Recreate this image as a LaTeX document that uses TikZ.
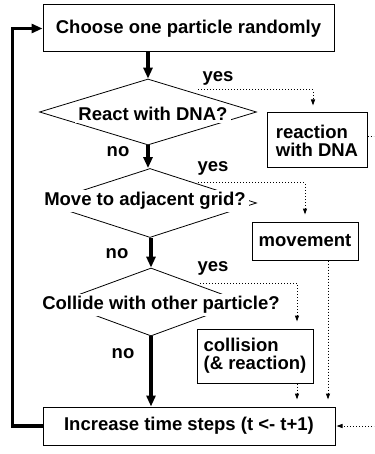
\documentclass[tikz,border=0pt]{standalone}
\usepackage{fontspec}
\setmainfont{Liberation Sans}
\usetikzlibrary{shapes.geometric,arrows.meta}

\begin{document}
\begin{tikzpicture}[x=1pt, y=-1pt,
    every node/.style={font=\fontsize{18.5}{18}\selectfont\bfseries},
    box/.style={draw, line width=1pt, inner sep=0pt},
    question/.style={draw, diamond, line width=0.8pt, inner sep=0pt},
    asktext/.style={fill=white, inner xsep=3pt, inner ysep=2pt},
    flow/.style={line width=3.5pt, -{Triangle[length=11pt,width=9pt]}},
    yesline/.style={line width=1pt, dotted, -{Triangle[length=6pt,width=4pt]}, shorten >=7pt}]
      \useasboundingbox (0,0) rectangle (374,454);
      \clip (0,0) rectangle (374,454);

      % Riquadri principali
      \node[box, minimum width=291pt, minimum height=47pt] (choose) at (188.5,28.5) {Choose one particle randomly};
      \node[box, minimum width=292pt, minimum height=38pt] (increase) at (189,426) {Increase time steps (t <- t+1)};

      % Domande
      \node[question, minimum width=217pt, minimum height=66pt] (react) at (148,112) {};
      \node[asktext] (reacttext) at (153,114) {React with DNA?};
      \node[question, minimum width=213pt, minimum height=69pt] (move) at (150,203) {};
      \node[asktext] (movetext) at (145,201) {Move to adjacent grid?};
      \node[question, minimum width=185pt, minimum height=68pt] (collide) at (151,302) {};
      \node[asktext] (collidetext) at (161,305) {Collide with other particle?};

      % Azioni
      \node[box, minimum width=100pt, minimum height=55pt, align=left] (reaction) at (317,140.5) {reaction\\with DNA};
      \node[box, minimum width=106pt, minimum height=38pt] (movement) at (305,241) {movement};
      \node[box, minimum width=116pt, minimum height=54pt, align=left] (collision) at (255,356) {collision\\(\& reaction)};

      % Etichette si/no
      \node (yes1) at (218,78) {yes};
      \node (no1) at (118,152) {no};
      \node (yes2) at (213,168) {yes};
      \node (no2) at (117,254) {no};
      \node (yes3) at (213,268) {yes};
      \node (no3) at (123,354) {no};

      % Percorso principale
      \draw[flow] (choose.south -| react.north) -- (react.north);
      \draw[flow] (react.south) -- (react.south |- move.north);
      \draw[flow] (move.south -| collide.north) -- (collide.north);
      \draw[flow] (collide.south) -- (collide.south |- increase.north);
      \draw[flow] (increase.west) -- ++(-30,0) |- (choose.west);

      % Rami yes
      \coordinate (r1) at (198,90);
      \coordinate (m1) at (198,183);
      \coordinate (c1) at (200,283);
      \draw[yesline] (r1) -| ([xshift=-4pt]reaction.north);
      \draw[yesline] (m1) -| (movement.north);
      \draw[yesline] (c1) -| ([xshift=42pt]collision.north);
      \draw[yesline] ([xshift=42pt]collision.south) -- ([xshift=42pt]collision.south |- increase.north);
      \draw[yesline] ([xshift=23pt]movement.south) -- ([xshift=23pt]movement.south |- increase.north);
      \draw[yesline, shorten >=1pt] ([yshift=3.5pt]reaction.east) -- ++(30,0) |- (increase.east);
\end{tikzpicture}
\end{document}
